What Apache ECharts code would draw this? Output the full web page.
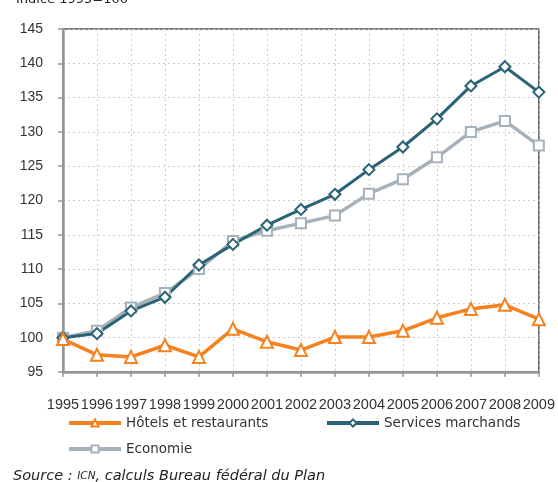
<!DOCTYPE html>
<html><head><meta charset="utf-8">
<script src="https://cdn.jsdelivr.net/npm/echarts@6/dist/echarts.min.js"></script>
<style>html,body{margin:0;padding:0;background:#fff}#c{width:558px;height:482px}</style>
</head><body><div id="c"></div>
<script>
const years = ['1995','1996','1997','1998','1999','2000','2001','2002','2003','2004','2005','2006','2007','2008','2009'];
const hotels = [99.8, 97.5, 97.2, 98.9, 97.2, 101.3, 99.4, 98.2, 100.1, 100.1, 101.0, 102.9, 104.2, 104.8, 102.7];
const services = [100.0, 100.6, 103.9, 105.9, 110.6, 113.6, 116.4, 118.7, 120.9, 124.5, 127.8, 131.9, 136.7, 139.5, 135.8];
const economie = [100.0, 101.0, 104.4, 106.5, 110.0, 114.1, 115.6, 116.7, 117.8, 121.0, 123.1, 126.3, 130.0, 131.6, 128.0];
const yTicks = [95, 145, 5];

const font = 'DejaVu Sans';
const numFont = 'Liberation Sans';
const chart = echarts.init(document.getElementById('c'), null, {renderer:'canvas'});
function ser(name, data, color, symbol, size, width) {
  return {name, type:'line', data, symbol, symbolSize:size, showSymbol:true,
    lineStyle:{color, width}, itemStyle:{color:'#fff', borderColor:color, borderWidth:2},
    emphasis:{disabled:true}, z: 3, animation:false};
}
function leg(name, left, top) {
  return {data:[{name}], left, top, padding:0, itemWidth:52, itemHeight:9, itemGap:6,
    lineStyle:{width:4}, itemStyle:{borderWidth:2},
    textStyle:{fontFamily:font, fontSize:13.5, color:'#333'}, selectedMode:false};
}
chart.setOption({
  animation:false,
  grid:{left:63, right:17, top:29, bottom:110, show:true, borderColor:'#555', borderWidth:1.5},
  xAxis:{type:'category', data:years, boundaryGap:false,
    axisLine:{lineStyle:{color:'#999', width:2.5}},
    axisTick:{show:true, length:5, lineStyle:{color:'#999', width:1.5}},
    axisLabel:{fontFamily:numFont, fontSize:14.5, color:'#333', margin:25, interval:0, hideOverlap:false, overflow:'none'},
    splitLine:{show:true, lineStyle:{color:'#ccc', type:[2,3], width:1}}},
  yAxis:{type:'value', min:yTicks[0], max:yTicks[1], interval:yTicks[2],
    axisLine:{show:true, lineStyle:{color:'#999', width:2.5}},
    axisTick:{show:true, length:5, lineStyle:{color:'#999', width:1.5}},
    axisLabel:{fontFamily:numFont, fontSize:14, color:'#333', margin:20},
    splitLine:{show:true, lineStyle:{color:'#ccc', type:[2,3], width:1}}},
  legend:[leg('Hôtels et restaurants', 67, 416), leg('Services marchands', 325, 416), leg('Economie', 67, 442)],
  series:[
    ser('Economie', economie, '#A7B1BC', 'rect', 10, 3.5),
    ser('Services marchands', services, '#2A6377', 'diamond', 11, 3),
    ser('Hôtels et restaurants', hotels, '#F5821F', 'triangle', 12, 3.5)
  ],
  graphic:[
    {type:'text', x:16, y:-7, z:10, style:{text:'Indice 1995=100', fontFamily:font, fontSize:13, fill:'#222'}},
    {type:'text', x:13, y:469, style:{
      text:'{a|Source : }{b|ICN}{a|, calculs Bureau fédéral du Plan}',
      rich:{a:{fontFamily:font, fontSize:14.5, fontStyle:'italic', fill:'#222'},
            b:{fontFamily:font, fontSize:10.5, fontStyle:'italic', fill:'#222'}}}}
  ]
});
</script></body></html>
